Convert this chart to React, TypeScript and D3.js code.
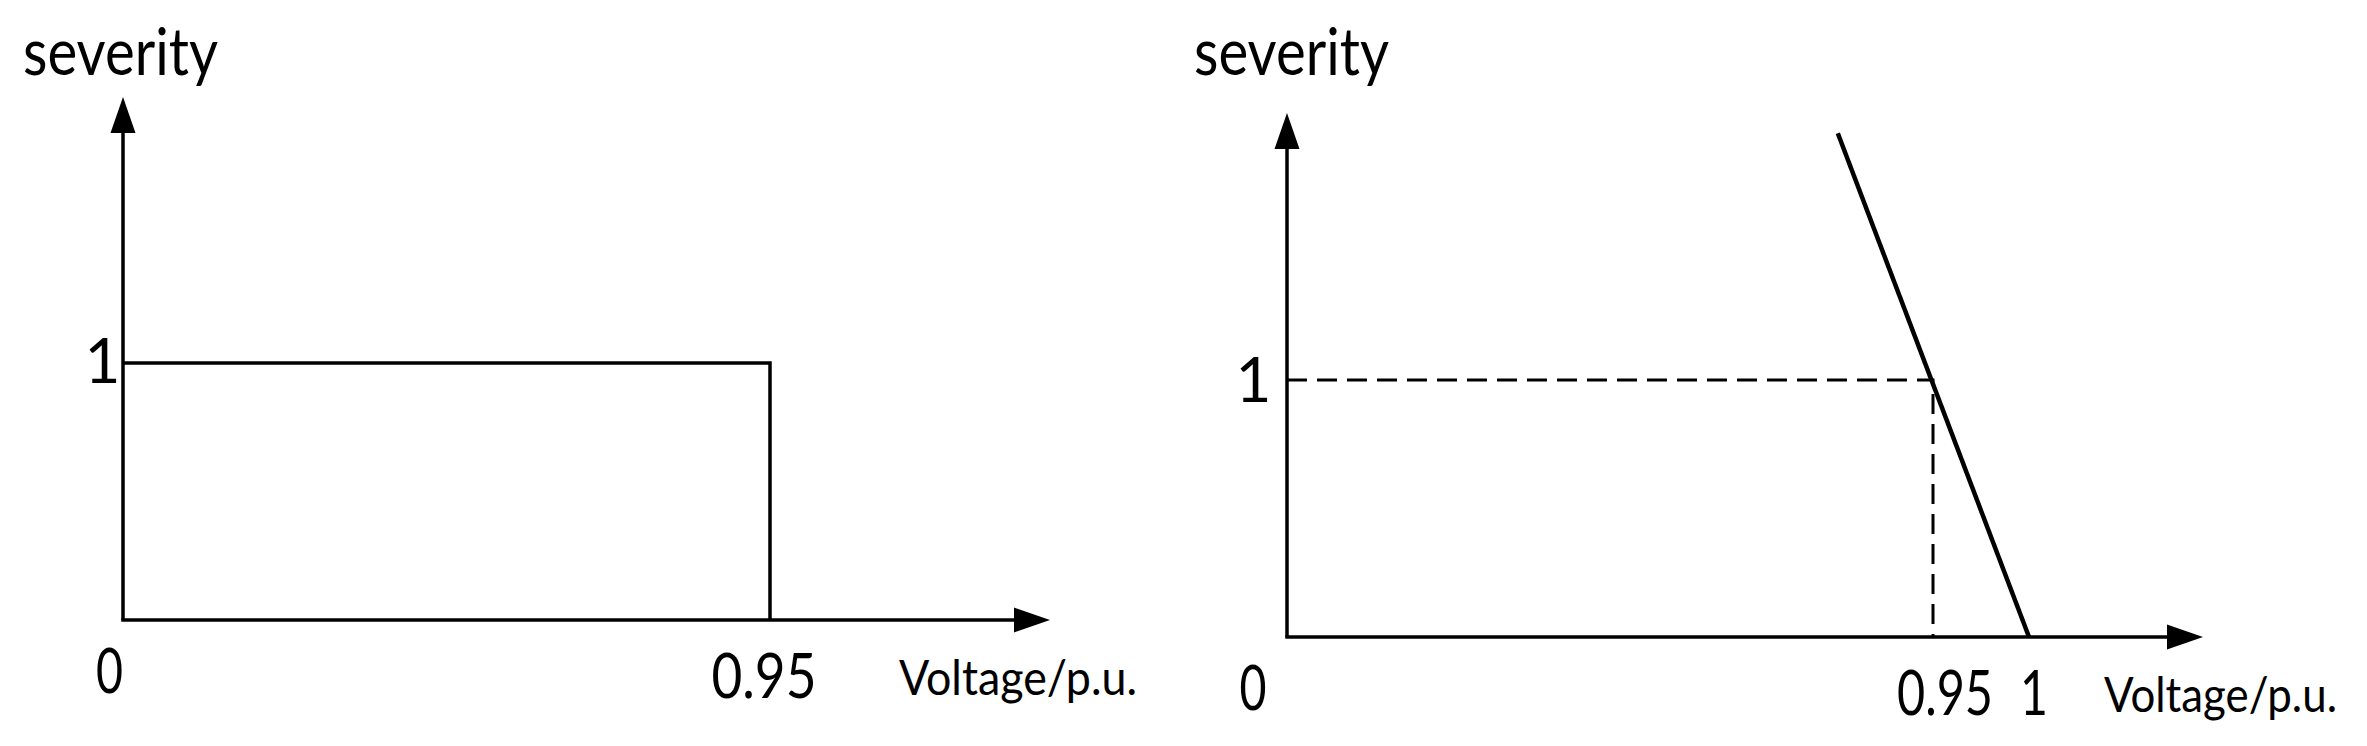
import React from "react";
import * as d3 from "d3";

// ---- data ----
const leftXTicks = [0, 0.95];
const leftYTicks = [1];
const leftStepVoltage = [0, 0.95, 0.95];
const leftStepSeverity = [1, 1, 0];

const rightXTicks = [0, 0.95, 1];
const rightYTicks = [1];
const rightLineVoltage = [0.81, 1];
const rightLineSeverity = [1.96, 0];
const rightGuideVoltage = [0, 0.95, 0.95];
const rightGuideSeverity = [1, 1, 0];

const yAxisLabel = "severity";
const xAxisLabel = "Voltage/p.u.";

const W = 2367;
const H = 746;
const FONT = "Lato, 'Open Sans', sans-serif";

type Pt = [number, number];

function Arrow({ tip, dir }: { tip: Pt; dir: "up" | "right" }) {
  const L = 36;
  const hw = 12.5;
  const pts: Pt[] =
    dir === "up"
      ? [tip, [tip[0] - hw, tip[1] + L], [tip[0] + hw, tip[1] + L]]
      : [tip, [tip[0] - L, tip[1] - hw], [tip[0] - L, tip[1] + hw]];
  return <polygon points={pts.map((p) => p.join(",")).join(" ")} fill="#000" />;
}

export default function App() {
  // left panel scales
  const lx = d3.scaleLinear().domain([0, 0.95]).range([123, 770]);
  const ly = d3.scaleLinear().domain([0, 1]).range([620, 363]);
  // right panel scales (schematic, piecewise)
  const rx = d3.scaleLinear().domain([0, 0.95, 1]).range([1287, 1933, 2029]);
  const ry = d3.scaleLinear().domain([0, 1]).range([637, 380]);

  const line = (xs: d3.ScaleLinear<number, number>, ys: d3.ScaleLinear<number, number>) =>
    d3
      .line<Pt>()
      .x((d) => xs(d[0]))
      .y((d) => ys(d[1]));

  const leftStep: Pt[] = leftStepVoltage.map((v, i) => [v, leftStepSeverity[i]]);
  const rightLine: Pt[] = rightLineVoltage.map((v, i) => [v, rightLineSeverity[i]]);
  const rightGuide: Pt[] = rightGuideVoltage.map((v, i) => [v, rightGuideSeverity[i]]);

  const leftXTickLayout: Record<string, { dx: number; base: number; len?: number }> = {
    "0": { dx: -13.5, base: 693, len: 27 },
    "0.95": { dx: -6, base: 698, len: 105 },
  };
  const rightXTickLayout: Record<string, { dx: number; base: number; len?: number }> = {
    "0": { dx: -34, base: 710, len: 27 },
    "0.95": { dx: 12, base: 715, len: 96 },
    "1": { dx: 5, base: 715, len: 28 },
  };

  const lx0 = lx(0);
  const ly0 = ly(0);
  const rx0 = rx(0);
  const ry0 = ry(0);

  return (
    <svg
      width={W}
      height={H}
      viewBox={`0 0 ${W} ${H}`}
      style={{ position: "absolute", left: 0, top: 0, background: "#fff" }}
      fontFamily={FONT}
    >
      <rect x={0} y={0} width={W} height={H} fill="#fff" />

      {/* ---------- LEFT PANEL ---------- */}
      <g>
        <line x1={lx0} y1={ly0} x2={lx0} y2={97 + 30} stroke="#000" strokeWidth={3.5} />
        <Arrow tip={[lx0, 97]} dir="up" />
        <line x1={lx0 - 1.75} y1={ly0} x2={1050 - 30} y2={ly0} stroke="#000" strokeWidth={3.5} />
        <Arrow tip={[1050, ly0]} dir="right" />
        <path d={line(lx, ly)(leftStep) || ""} fill="none" stroke="#000" strokeWidth={3.5} />

        <text x={23} y={75} fontSize={65} textLength={195} lengthAdjust="spacingAndGlyphs">
          {yAxisLabel}
        </text>
        {leftYTicks.map((t) => (
          <text key={t} x={lx0 - 20.5} y={ly(t) + 20} fontSize={62} textAnchor="middle">
            {String(t)}
          </text>
        ))}
        {leftXTicks.map((t) => {
          const lay = leftXTickLayout[String(t)];
          return (
            <text
              key={t}
              x={lx(t) + lay.dx}
              y={lay.base}
              fontSize={62}
              textAnchor="middle"
              textLength={lay.len}
              lengthAdjust="spacingAndGlyphs"
            >
              {String(t)}
            </text>
          );
        })}
        <text x={899} y={695} fontSize={49} textLength={238} lengthAdjust="spacingAndGlyphs">
          {xAxisLabel}
        </text>
      </g>

      {/* ---------- RIGHT PANEL ---------- */}
      <g>
        <line x1={rx0} y1={ry0} x2={rx0} y2={113 + 30} stroke="#000" strokeWidth={3.5} />
        <Arrow tip={[rx0, 113]} dir="up" />
        <line x1={rx0 - 1.75} y1={ry0} x2={2203 - 30} y2={ry0} stroke="#000" strokeWidth={3.5} />
        <Arrow tip={[2203, ry0]} dir="right" />
        <path
          d={line(rx, ry)(rightGuide) || ""}
          fill="none"
          stroke="#000"
          strokeWidth={3}
          strokeDasharray="20 10"
        />
        <path d={line(rx, ry)(rightLine) || ""} fill="none" stroke="#000" strokeWidth={4.5} />

        <text x={1194} y={75} fontSize={65} textLength={195} lengthAdjust="spacingAndGlyphs">
          {yAxisLabel}
        </text>
        {rightYTicks.map((t) => (
          <text key={t} x={rx0 - 33.5} y={ry(t) + 22} fontSize={62} textAnchor="middle">
            {String(t)}
          </text>
        ))}
        {rightXTicks.map((t) => {
          const lay = rightXTickLayout[String(t)];
          return (
            <text
              key={t}
              x={rx(t) + lay.dx}
              y={lay.base}
              fontSize={62}
              textAnchor="middle"
              textLength={lay.len}
              lengthAdjust="spacingAndGlyphs"
            >
              {String(t)}
            </text>
          );
        })}
        <text x={2104} y={712} fontSize={48} textLength={233} lengthAdjust="spacingAndGlyphs">
          {xAxisLabel}
        </text>
      </g>
    </svg>
  );
}
